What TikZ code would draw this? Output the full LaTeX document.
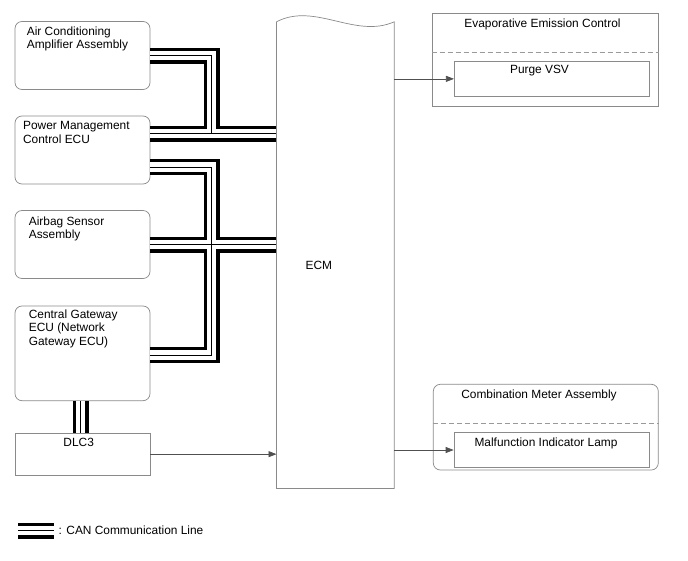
\documentclass[tikz,border=0pt]{standalone}
\usepackage{fontspec}
\setmainfont{Liberation Sans}
\usepackage{tikz}
\usetikzlibrary{arrows.meta,positioning}
\definecolor{frame}{HTML}{8A8A8A}
\definecolor{wire}{HTML}{505050}
\definecolor{sepgray}{HTML}{9A9A9A}

\begin{document}
\begin{tikzpicture}[x=1pt,y=-1pt,font=\fontsize{11.9}{13.5}\selectfont,
  bx/.style={draw=frame,line width=0.7pt,rounded corners=7pt,minimum width=135pt,inner sep=0pt},
  sq/.style={draw=frame,line width=0.7pt,inner sep=0pt},
  txt/.style={inner sep=0pt,align=left},
  canout/.style={line width=16pt,draw=black},
  canmid/.style={line width=9.2pt,draw=white},
  canin/.style={line width=1pt,draw=black},
  ar/.style={-{Triangle[length=8pt,width=6pt]},draw=wire,line width=0.7pt},
  divider/.style={draw=sepgray,line width=0.7pt,dash pattern=on 5pt off 3pt}]
\useasboundingbox (0,0) rectangle (688,560);

% left column
\node[bx,minimum height=68pt] (ac) at (82.5,55.5) {};
\node[txt,below right=5.2pt and 12pt of ac.north west] (aclbl) {Air Conditioning\\Amplifier Assembly};
\node[bx,minimum height=68pt] (pm) at (82.5,150) {};
\node[txt,below right=5.7pt and 8.3pt of pm.north west] (pmlbl) {Power Management\\Control ECU};
\node[bx,minimum height=68pt] (ab) at (82.5,244.5) {};
\node[txt,below right=6.5pt and 14pt of ab.north west] (ablbl) {Airbag Sensor\\Assembly};
\node[bx,minimum height=94.7pt] (gw) at (82.5,353.35) {};
\node[txt,below right=4pt and 14pt of gw.north west] (gwlbl) {Central Gateway\\ECU (Network\\Gateway ECU)};
\node[sq,minimum width=135pt,minimum height=41.7pt] (dlc) at (82.5,454.15) {};
\node[txt,anchor=north] (dlclbl) at (78.7,438.3) {DLC3};

% ECM
\node[minimum width=117.3pt,minimum height=466.3pt,inner sep=0pt] (ecm) at (335.35,255.15) {};
\node[txt] (ecmlbl) at ([xshift=-16.5pt,yshift=-10pt]ecm.center) {ECM};

% right column
\node[sq,minimum width=226pt,minimum height=92.7pt] (evap) at (545.3,59.65) {};
\node[txt,anchor=north] (evaplbl) at (542.5,18.3) {Evaporative Emission Control};
\draw[divider] ([yshift=-39.4pt]evap.north west) -- ([yshift=-39.4pt]evap.north east);
\node[sq,minimum width=195pt,minimum height=35.7pt] (vsv) at (551.8,78.85) {};
\node[txt,anchor=north] (vsvlbl) at (539.5,65) {Purge VSV};

\node[bx,minimum width=225pt,minimum height=85.7pt] (meter) at (545.8,427.15) {};
\node[txt,anchor=north] (meterlbl) at (539,389.3) {Combination Meter Assembly};
\draw[divider] ([yshift=-39.7pt]meter.north west) -- ([yshift=-39.7pt]meter.north east);
\node[sq,minimum width=195pt,minimum height=35.4pt] (mil) at (551.5,450) {};
\node[txt,anchor=north] (millbl) at (546,438) {Malfunction Indicator Lamp};

\node[txt,anchor=west] (legend) at (58.5,530.5) {: CAN Communication Line};

% CAN lines, drawn in three layers so that joins merge
\coordinate (trunk) at (211.5,0);
\coordinate (pma) at ([yshift=16.5pt]pm.east);
\coordinate (pmb) at ([yshift=-17pt]pm.east);
\coordinate (gwp) at ([yshift=-1.65pt]gw.east);
\foreach \layer in {canout,canmid,canin}{
  \draw[\layer] (ac.east) -| (trunk |- pma) -- (pma -| ecm.west);
  \draw[\layer] (pma) -- (pma -| ecm.west);
  \draw[\layer] (pmb) -| (trunk |- gwp) -- (gwp);
  \draw[\layer] (ab.east) -- (ab.east -| ecm.west);
  \draw[\layer] ([xshift=-2pt]gw.south) -- ([xshift=-2pt]dlc.north);
  \draw[\layer] ([xshift=-40.5pt]legend.west) -- ([xshift=-4.5pt]legend.west);
}

\draw[frame,line width=0.7pt] (ecm.south west) -- (ecm.north west)
  .. controls +(38.3,-20) and +(-39,17.3) .. (ecm.north east) -- (ecm.south east) -- cycle;

\draw[ar] (dlc.east) -- (dlc.east -| ecm.west);
\draw[ar] (vsv.west -| ecm.east) -- (vsv.west);
\draw[ar] (mil.west -| ecm.east) -- (mil.west);
\end{tikzpicture}
\end{document}
